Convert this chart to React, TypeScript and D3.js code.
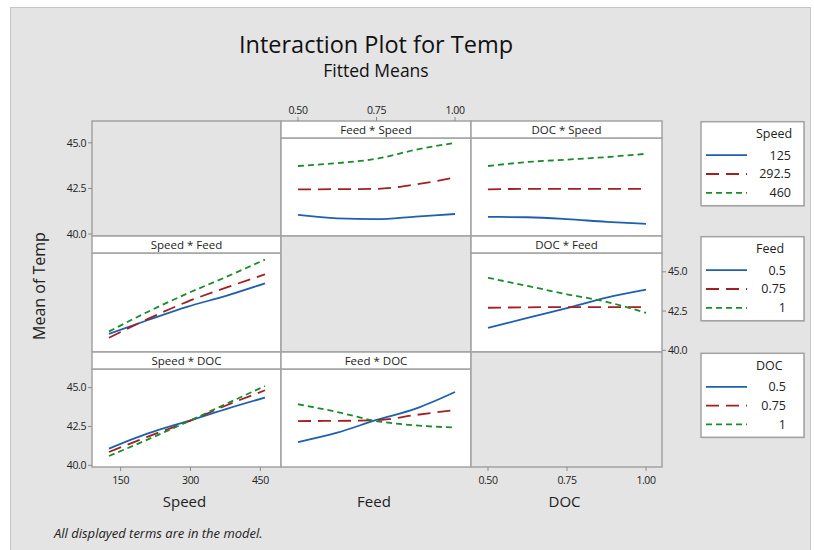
import React from 'react';
import * as d3 from 'd3';

// factors in matrix order (rows group the lines, columns give the x axis)
const factors = ['Speed', 'Feed', 'DOC'];
const speedLevels = ['125', '292.5', '460'];
const feedLevels = ['0.5', '0.75', '1'];
const docLevels = ['0.5', '0.75', '1'];

const speedGrid = [125, 208.75, 292.5, 376.25, 460];
const feedGrid = [0.5, 0.625, 0.75, 0.875, 1];
const docGrid = [0.5, 0.625, 0.75, 0.875, 1];

const speedTicks = [150, 300, 450];
const unitTicks = [0.5, 0.75, 1];
const tempTicks = [40, 42.5, 45];

// fitted means, one array per level of the grouping factor
const feedBySpeed = [
  [41.05, 40.86, 40.82, 40.96, 41.1],
  [42.45, 42.46, 42.48, 42.72, 43.1],
  [43.73, 43.89, 44.13, 44.62, 45.0],
];
const docBySpeed = [
  [40.94, 40.92, 40.82, 40.67, 40.56],
  [42.45, 42.48, 42.48, 42.48, 42.48],
  [43.73, 43.95, 44.08, 44.22, 44.4],
];
const speedByFeed = [
  [41.05, 41.93, 42.77, 43.47, 44.27],
  [40.8, 42.0, 43.09, 43.99, 44.84],
  [41.2, 42.46, 43.61, 44.67, 45.78],
];
const docByFeed = [
  [41.43, 42.06, 42.69, 43.36, 43.87],
  [42.71, 42.74, 42.75, 42.75, 42.75],
  [44.62, 44.1, 43.57, 43.09, 42.38],
];
const speedByDoc = [
  [41.07, 42.05, 42.83, 43.62, 44.36],
  [40.86, 41.85, 42.79, 43.85, 44.83],
  [40.6, 41.67, 42.79, 43.95, 45.1],
];
const feedByDoc = [
  [41.5, 42.1, 42.92, 43.65, 44.72],
  [42.85, 42.86, 42.9, 43.24, 43.56],
  [43.93, 43.43, 42.85, 42.57, 42.43],
];

const levelLabels = [speedLevels, feedLevels, docLevels];
const grids = [speedGrid, feedGrid, docGrid];
// panels[row][col]
const panels: (number[][] | null)[][] = [
  [null, feedBySpeed, docBySpeed],
  [speedByFeed, null, docByFeed],
  [speedByDoc, feedByDoc, null],
];

const COLORS = ['#1f5fb0', '#a31f24', '#1c8b2b'];
const DASHES = [undefined, '13 7', '6 4'];

const colX = [92, 281, 471, 662];
const rowY = [121, 236, 352, 467];
const STRIP = 17;
const BG = '#e4e4e4';
const FRAME = '#a3a3a3';
const FONT = "'Segoe UI', 'Open Sans', sans-serif";

function xScale(c: number) {
  return d3.scaleLinear()
    .domain(c === 0 ? [125, 460] : [0.5, 1])
    .range([colX[c] + 17, colX[c + 1] - 16]);
}

function yScale(r: number) {
  // the first row's axis sits beside the strip-less diagonal cell
  const top = r === 0 ? rowY[0] : rowY[r] + STRIP;
  const bottom = rowY[r + 1];
  const h = bottom - top;
  return d3.scaleLinear().domain([40, 45]).range([bottom - 0.017 * h, bottom - 0.81 * h]);
}

function YAxis({ r, side }: { r: number; side: 'left' | 'right' }) {
  const y = yScale(r);
  const x0 = side === 'left' ? colX[0] : colX[3];
  const dir = side === 'left' ? -1 : 1;
  return (
    <g>
      {tempTicks.map(t => (
        <g key={t}>
          <line x1={x0} x2={x0 + dir * 4} y1={y(t)} y2={y(t)} stroke="#8c8c8c" strokeWidth={1} />
          <text x={x0 + dir * 6} y={y(t)} dy="0.35em" fontSize={10.5} letterSpacing={-0.4}
            textAnchor={side === 'left' ? 'end' : 'start'} fill="#222">{t.toFixed(1)}</text>
        </g>
      ))}
    </g>
  );
}

function XAxis({ c, side }: { c: number; side: 'top' | 'bottom' }) {
  const x = xScale(c);
  const ticks = c === 0 ? speedTicks : unitTicks;
  const y0 = side === 'top' ? rowY[0] : rowY[3];
  const dir = side === 'top' ? -1 : 1;
  return (
    <g>
      {ticks.map(t => (
        <g key={t}>
          <line x1={x(t)} x2={x(t)} y1={y0} y2={y0 + dir * 4} stroke="#8c8c8c" strokeWidth={1} />
          <text x={x(t)} y={side === 'top' ? y0 - 7 : y0 + 17} fontSize={10.5} letterSpacing={-0.4}
            textAnchor="middle" fill="#222">{c === 0 ? t : t.toFixed(2)}</text>
        </g>
      ))}
    </g>
  );
}

function Panel({ r, c }: { r: number; c: number }) {
  const x0 = colX[c], x1 = colX[c + 1], y0 = rowY[r], y1 = rowY[r + 1];
  const series = panels[r][c];
  if (!series) {
    return <rect x={x0} y={y0} width={x1 - x0} height={y1 - y0} fill={BG} stroke={FRAME} strokeWidth={1.5} />;
  }
  const x = xScale(c);
  const y = yScale(r);
  const grid = grids[c];
  const line = d3.line<number>()
    .x((_, i) => x(grid[i]))
    .y(v => y(v))
    .curve(d3.curveMonotoneX);
  return (
    <g>
      <rect x={x0} y={y0 + STRIP} width={x1 - x0} height={y1 - y0 - STRIP} fill="#fff" stroke={FRAME} strokeWidth={1.5} />
      {series.map((s, i) => (
        <path key={i} d={line(s) || ''} fill="none" stroke={COLORS[i]} strokeWidth={1.8}
          strokeDasharray={DASHES[i]} />
      ))}
      <rect x={x0} y={y0} width={x1 - x0} height={STRIP} fill="#fff" stroke={FRAME} strokeWidth={1.5} />
      <text x={(x0 + x1) / 2} y={y0 + STRIP / 2} dy="0.36em" textAnchor="middle" fontSize={11.5} fill="#222">
        {`${factors[c]} * ${factors[r]}`}
      </text>
    </g>
  );
}

const legendTops = [121.7, 236.7, 353.3];
const legendLabelRight = [791, 786, 786];

function Legend({ i }: { i: number }) {
  const top = legendTops[i];
  return (
    <g>
      <rect x={702} y={top + 1} width={103} height={84} fill="#c8c8c8" />
      <rect x={701} y={top} width={103} height={84} fill="#fff" stroke={FRAME} strokeWidth={1.5} />
      <text x={756} y={top + 12.2} dy="0.35em" fontSize={12.5} fill="#222">{factors[i]}</text>
      {levelLabels[i].map((lab, k) => {
        const yy = top + 33.5 + k * 18.8;
        return (
          <g key={lab}>
            <line x1={706} x2={747} y1={yy} y2={yy} stroke={COLORS[k]} strokeWidth={1.8} strokeDasharray={DASHES[k]} />
            <text x={legendLabelRight[i]} y={yy} dy="0.35em" textAnchor="end" fontSize={12.5} fill="#222">{lab}</text>
          </g>
        );
      })}
    </g>
  );
}

export default function App() {
  const cells: { r: number; c: number }[] = [];
  for (let r = 0; r < 3; r++) for (let c = 0; c < 3; c++) cells.push({ r, c });
  return (
    <svg width={814} height={550} style={{ position: 'absolute', left: 0, top: 0, display: 'block' }}
      fontFamily={FONT}>
      <rect x={0} y={0} width={814} height={550} fill="#fff" />
      <rect x={10.5} y={7.5} width={800} height={550} fill={BG} stroke="#c6c6c6" strokeWidth={1} />

      <text x={376} y={53} textAnchor="middle" fontSize={23.5} fill="#111">Interaction Plot for Temp</text>
      <text x={376} y={77} textAnchor="middle" fontSize={17.5} fontWeight={500} fill="#111">Fitted Means</text>

      {cells.map(({ r, c }) => <Panel key={`${r}-${c}`} r={r} c={c} />)}

      <YAxis r={0} side="left" />
      <YAxis r={1} side="right" />
      <YAxis r={2} side="left" />
      <XAxis c={0} side="bottom" />
      <XAxis c={1} side="top" />
      <XAxis c={2} side="bottom" />

      {factors.map((f, c) => (
        <text key={f} x={(colX[c] + colX[c + 1]) / 2 - 2} y={507} textAnchor="middle" fontSize={15} fill="#222">{f}</text>
      ))}
      <text transform="translate(45,286) rotate(-90)" textAnchor="middle" fontSize={16} fill="#222">Mean of Temp</text>

      {factors.map((f, i) => <Legend key={f} i={i} />)}

      <text x={54} y={538} fontSize={13} fontStyle="italic" fill="#222">All displayed terms are in the model.</text>
    </svg>
  );
}
